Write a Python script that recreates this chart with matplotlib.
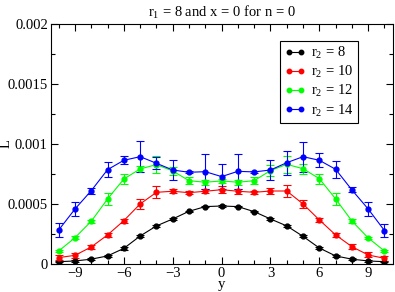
import numpy as np
import matplotlib
matplotlib.use("Agg")
import matplotlib.pyplot as plt
from matplotlib.lines import Line2D
from matplotlib.ticker import MultipleLocator

plt.rcParams['font.family'] = ['Liberation Serif', 'DejaVu Serif']
plt.rcParams['mathtext.fontset'] = 'custom'
plt.rcParams['mathtext.rm'] = 'Liberation Serif'
plt.rcParams['mathtext.it'] = 'Liberation Serif:italic'

y_pos = list(range(-10, 11))

L_r8 = [0.000019, 0.000025, 0.000040, 0.000067, 0.000130, 0.000233, 0.000317,
        0.000375, 0.000439, 0.000478, 0.000483, 0.000478, 0.000436, 0.000375,
        0.000317, 0.000230, 0.000133, 0.000067, 0.000040, 0.000025, 0.000019]
err_r8 = [0.000005, 0.000005, 0.000006, 0.000008, 0.000010, 0.000008, 0.000008,
          0.000006, 0.000006, 0.000006, 0.000006, 0.000006, 0.000006, 0.000006,
          0.000008, 0.000008, 0.000010, 0.000008, 0.000006, 0.000005, 0.000005]

L_r10 = [0.000053, 0.000072, 0.000142, 0.000242, 0.000361, 0.000500, 0.000597,
         0.000606, 0.000594, 0.000606, 0.000619, 0.000606, 0.000597, 0.000608,
         0.000608, 0.000500, 0.000367, 0.000242, 0.000144, 0.000075, 0.000047]
err_r10 = [0.000022, 0.000021, 0.000017, 0.000014, 0.000017, 0.000042, 0.000050,
           0.000017, 0.000011, 0.000017, 0.000028, 0.000022, 0.000011, 0.000022,
           0.000047, 0.000036, 0.000017, 0.000014, 0.000019, 0.000021, 0.000019]

L_r12 = [0.000108, 0.000219, 0.000356, 0.000542, 0.000708, 0.000792, 0.000828,
         0.000775, 0.000694, 0.000681, 0.000692, 0.000681, 0.000694, 0.000778,
         0.000830, 0.000794, 0.000711, 0.000542, 0.000358, 0.000217, 0.000108]
err_r12 = [0.000008, 0.000010, 0.000014, 0.000047, 0.000042, 0.000025, 0.000072,
           0.000033, 0.000028, 0.000022, 0.000017, 0.000022, 0.000028, 0.000044,
           0.000072, 0.000042, 0.000042, 0.000047, 0.000017, 0.000010, 0.000008]

L_r14 = [0.000283, 0.000458, 0.000611, 0.000786, 0.000864, 0.000894, 0.000839,
         0.000783, 0.000764, 0.000769, 0.000728, 0.000772, 0.000767, 0.000783,
         0.000844, 0.000894, 0.000864, 0.000789, 0.000617, 0.000458, 0.000278]
err_r14 = [0.000057, 0.000056, 0.000024, 0.000065, 0.000035, 0.000128, 0.000050,
           0.000083, 0.000010, 0.000146, 0.000107, 0.000146, 0.000010, 0.000083,
           0.000100, 0.000125, 0.000058, 0.000069, 0.000021, 0.000056, 0.000056]

series = [(L_r8, err_r8, '#000000', r'r$_2$ = 8'),
          (L_r10, err_r10, '#ff0000', r'r$_2$ = 10'),
          (L_r12, err_r12, '#00ff00', r'r$_2$ = 12'),
          (L_r14, err_r14, '#0000ff', r'r$_2$ = 14')]

fig = plt.figure(figsize=(3.95, 2.92), dpi=100)
ax = fig.add_axes([0.128, 0.096, 0.866, 0.822])

handles = []
for vals, errs, col, lab in series:
    ax.errorbar(y_pos, vals, yerr=errs, fmt='-o', color=col, ms=3.5, lw=0.8,
                ecolor=col, elinewidth=0.8, capsize=3, capthick=0.8)
    handles.append(Line2D([0], [0], color=col, lw=0.8, marker='o', ms=3.2))

ax.set_xlim(-10.5, 10.5)
ax.set_ylim(0, 0.002)
ax.xaxis.set_major_locator(MultipleLocator(3))
ax.xaxis.set_minor_locator(MultipleLocator(1))
ax.yaxis.set_minor_locator(MultipleLocator(0.00025))
ax.set_yticks([0, 0.0005, 0.001, 0.0015, 0.002])
ax.set_yticklabels(['0', '0.0005', '0.001', '0.0015', '0.002'])
ax.tick_params(which='both', direction='in', top=True, right=True,
               labelsize=10.5, width=0.8)
ax.tick_params(which='major', length=5, pad=2)
ax.tick_params(which='minor', length=3)
for sp in ax.spines.values():
    sp.set_linewidth(0.8)

ax.set_xlabel('y', fontsize=10.5, labelpad=-1)
ax.set_ylabel('L', fontsize=10.5)
ax.yaxis.set_label_coords(-0.11, 0.5)
ax.set_title(r'r$_1$ = 8 and x = 0 for n = 0', fontsize=10.5, pad=5)

leg = ax.legend(handles, [s[3] for s in series], loc='upper right',
                bbox_to_anchor=(0.898, 0.929), borderaxespad=0, numpoints=2,
                fontsize=10.5, handlelength=1.4, handletextpad=0.4,
                labelspacing=0.2, borderpad=0.3, fancybox=False, framealpha=1)
leg.get_frame().set_edgecolor('black')
leg.get_frame().set_linewidth(0.8)

fig.savefig('out.png', dpi=100)
